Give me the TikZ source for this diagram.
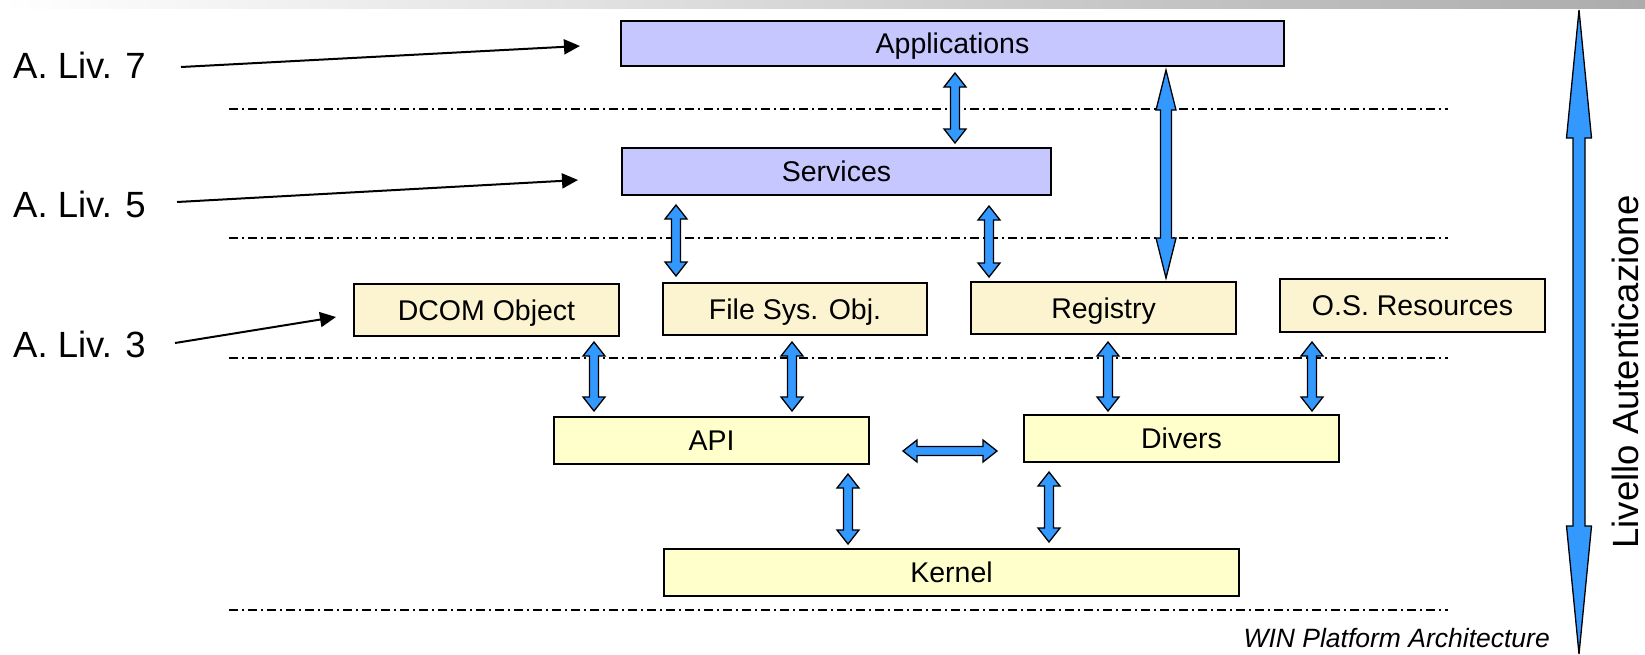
\documentclass[tikz,border=0pt]{standalone}
\usepackage{fontspec}
\setmainfont{Liberation Sans}
\usetikzlibrary{calc,arrows.meta}
\definecolor{lav}{RGB}{199,199,255}
\definecolor{creamA}{RGB}{252,243,208}
\definecolor{creamB}{RGB}{255,255,204}
\definecolor{ablue}{RGB}{51,153,255}
% vertical double block arrow: #1 top coord, #2 bottom coord, #3 half shaft, #4 half head, #5 head length
\newcommand{\vdarrow}[5]{%
  \draw[blockarrow] let \p1=(#1), \p2=(#2) in
   (\x1,\y1) -- (\x1+#4pt,\y1-#5pt) -- (\x1+#3pt,\y1-#5pt) -- (\x1+#3pt,\y2+#5pt)
   -- (\x1+#4pt,\y2+#5pt) -- (\x1,\y2) -- (\x1-#4pt,\y2+#5pt) -- (\x1-#3pt,\y2+#5pt)
   -- (\x1-#3pt,\y1-#5pt) -- (\x1-#4pt,\y1-#5pt) -- cycle;}
% horizontal double block arrow: #1 left coord, #2 right coord
\newcommand{\hdarrow}[5]{%
  \draw[blockarrow] let \p1=(#1), \p2=(#2) in
   (\x1,\y1) -- (\x1+#5pt,\y1+#4pt) -- (\x1+#5pt,\y1+#3pt) -- (\x2-#5pt,\y1+#3pt)
   -- (\x2-#5pt,\y1+#4pt) -- (\x2,\y1) -- (\x2-#5pt,\y1-#4pt) -- (\x2-#5pt,\y1-#3pt)
   -- (\x1+#5pt,\y1-#3pt) -- (\x1+#5pt,\y1-#4pt) -- cycle;}
\begin{document}
\begin{tikzpicture}[x=1pt,y=-1pt,
  box/.style={draw=black, line width=1.6pt, inner sep=0pt, text height=20.5pt, text depth=0pt,
    font=\fontsize{28.5}{34}\selectfont},
  lbl/.style={inner sep=0pt, anchor=base west, font=\fontsize{36.5}{40}\selectfont},
  levelline/.style={line width=1.5pt, dash pattern=on 9pt off 4pt on 2pt off 4pt},
  pointer/.style={line width=2pt, -{Triangle[length=16pt,width=15pt]}},
  blockarrow/.style={draw=black, fill=ablue, line width=1.3pt, line join=miter}]
\useasboundingbox (0,0) rectangle (1645,654);
\fill[white] (0,0) rectangle (1645,654);
\shade[left color=white, right color=gray!65] (0,0) rectangle (1645,8);

% level lines
\foreach \yy/\nm in {109/a,238/b,358/c,610/d}{
  \coordinate (\nm l) at (229,\yy);
  \coordinate (\nm r) at (1448,\yy);
  \draw[levelline] (\nm l) -- (\nm r);
}

% boxes
\node[box, fill=lav, minimum width=663pt, minimum height=45pt] (apps) at (952.5,43.5) {Applications};
\node[box, fill=lav, minimum width=429pt, minimum height=47pt] (serv) at (836.5,171.5) {Services};
\node[box, fill=creamA, minimum width=265pt, minimum height=52pt] (dcom) at (486.5,310) {DCOM Object};
\node[box, fill=creamA, minimum width=264pt, minimum height=52pt] (fsys) at (795,309) {File Sys. Obj.};
\node[box, fill=creamA, minimum width=265pt, minimum height=52pt] (reg) at (1103.5,308) {Registry};
\node[box, fill=creamA, minimum width=265pt, minimum height=53pt] (osr) at (1412.5,305.5) {O.S. Resources};
\node[box, fill=creamB, minimum width=315pt, minimum height=47pt] (api) at (711.5,440.5) {API};
\node[box, fill=creamB, minimum width=315pt, minimum height=47pt] (div) at (1181.5,438.5) {Divers};
\node[box, fill=creamB, minimum width=575pt, minimum height=47pt] (kern) at (951.5,572.5) {Kernel};

% left labels and pointers
\node[lbl] (l7) at (13,78) {A. Liv. 7};
\node[lbl] (l5) at (13,217) {A. Liv. 5};
\node[lbl] (l3) at (13,357) {A. Liv. 3};
\coordinate (s7) at (181,67);  \coordinate (e7) at (580,46);
\coordinate (s5) at (177,202); \coordinate (e5) at (578,180);
\coordinate (s3) at (175,343); \coordinate (e3) at (336,317);
\draw[pointer] (s7) -- (e7);
\draw[pointer] (s5) -- (e5);
\draw[pointer] (s3) -- (e3);

% block arrows between layers
\coordinate (as1) at (955,73);   \coordinate (as2) at (955,143);
\coordinate (sf1) at (676,205);  \coordinate (sf2) at (676,276);
\coordinate (sr1) at (989,206);  \coordinate (sr2) at (989,277);
\coordinate (ar1) at (1166,70);  \coordinate (ar2) at (1166,278);
\coordinate (da1) at (594,342);  \coordinate (da2) at (594,411);
\coordinate (fa1) at (792,342);  \coordinate (fa2) at (792,411);
\coordinate (rd1) at (1108,342); \coordinate (rd2) at (1108,411);
\coordinate (od1) at (1312,342); \coordinate (od2) at (1312,411);
\coordinate (ak1) at (848,474);  \coordinate (ak2) at (848,544);
\coordinate (dk1) at (1049,472); \coordinate (dk2) at (1049,542);
\coordinate (ad1) at (903,451);  \coordinate (ad2) at (997,451);
\vdarrow{as1}{as2}{4.5}{11}{14}
\vdarrow{sf1}{sf2}{4.5}{11}{14}
\vdarrow{sr1}{sr2}{4.5}{11}{14}
\vdarrow{ar1}{ar2}{5.5}{10}{40}
\vdarrow{da1}{da2}{4.5}{11}{14}
\vdarrow{fa1}{fa2}{4.5}{11}{14}
\vdarrow{rd1}{rd2}{4.5}{11}{14}
\vdarrow{od1}{od2}{4.5}{11}{14}
\vdarrow{ak1}{ak2}{4.5}{11}{14}
\vdarrow{dk1}{dk2}{4.5}{11}{14}
\hdarrow{ad1}{ad2}{4.5}{11}{14}

% authentication level arrow
\coordinate (lv1) at (1579,10); \coordinate (lv2) at (1579,654);
\vdarrow{lv1}{lv2}{6}{12.5}{128}
\node[rotate=90, anchor=base, inner sep=0pt, font=\fontsize{36.5}{40}\selectfont] (liv) at (1638,372) {Livello Autenticazione};

\node[anchor=base east, inner sep=0pt, font=\itshape\fontsize{26.5}{30}\selectfont] (win) at (1550,647) {WIN Platform Architecture};
\end{tikzpicture}
\end{document}
